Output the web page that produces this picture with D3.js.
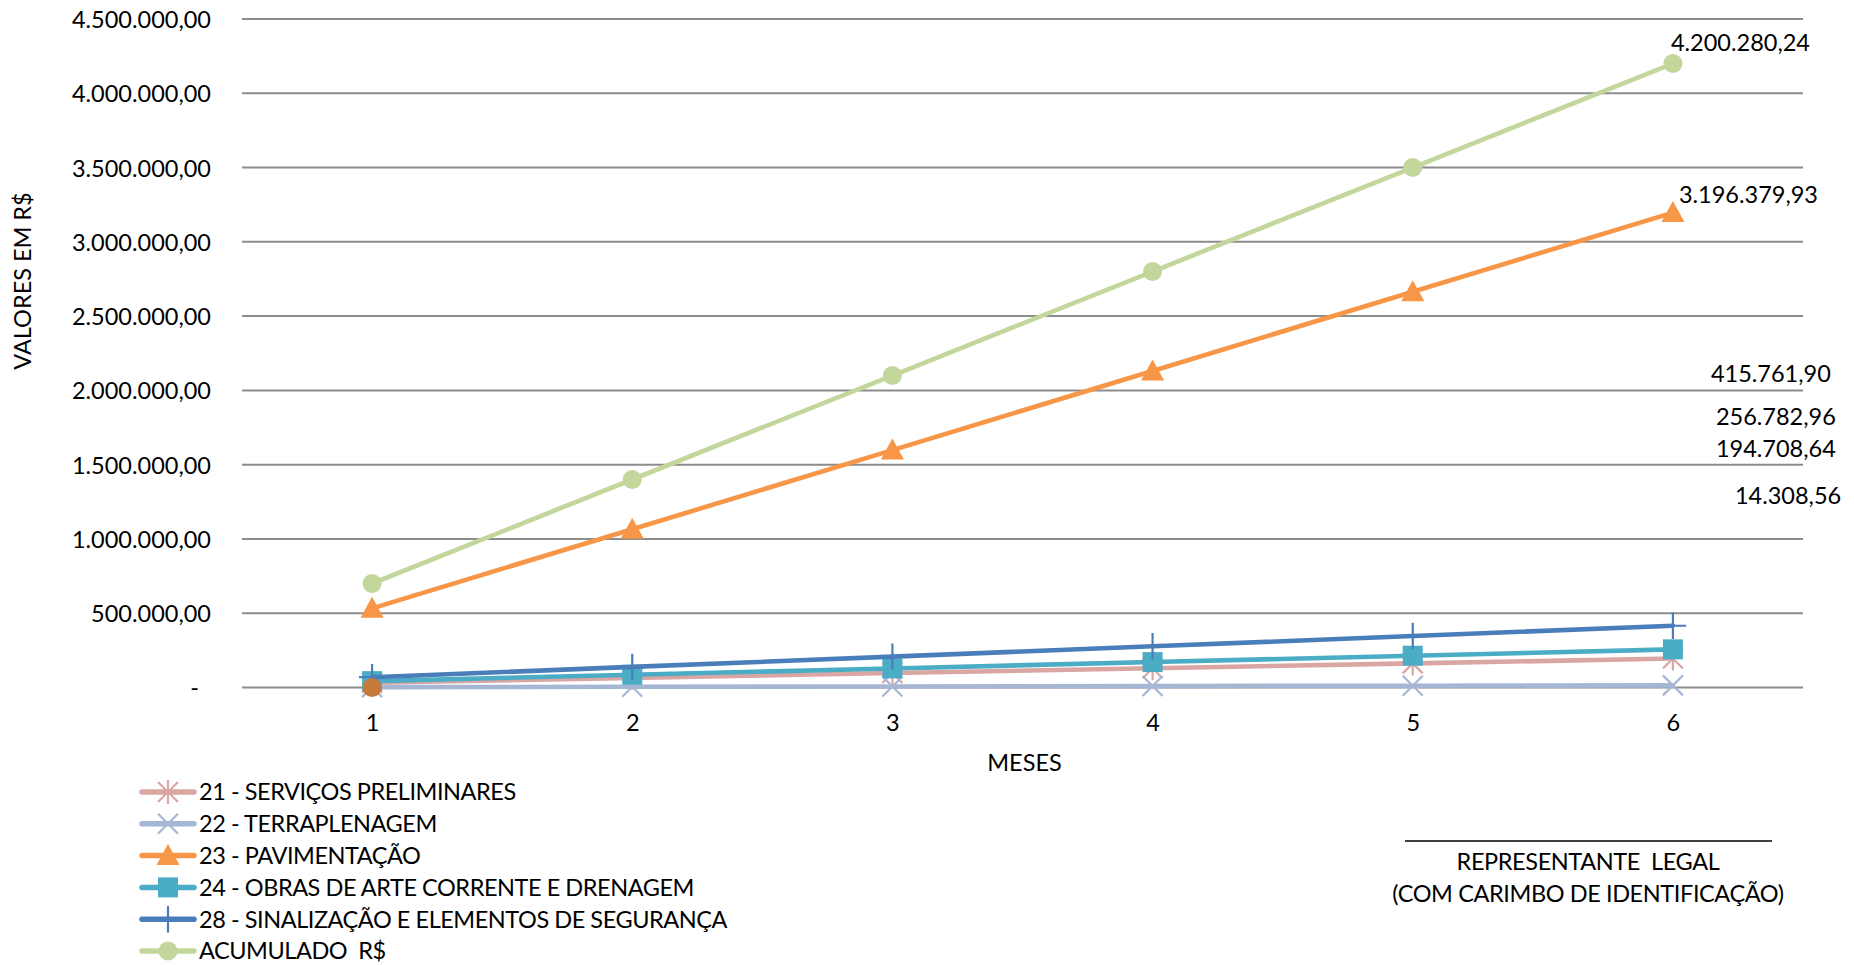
<!DOCTYPE html>
<html>
<head>
<meta charset="utf-8">
<script src="https://cdn.jsdelivr.net/npm/d3@7"></script>
<style>
  html, body { margin: 0; padding: 0; background: #fff; }
  svg { display: block; }
  text { font-family: Lato, "Open Sans", sans-serif; fill: #000; white-space: pre; }
</style>
</head>
<body>
<svg id="chart" width="1854" height="965"></svg>
<script>
// ---------------- DATA ----------------
const months = [1, 2, 3, 4, 5, 6];
const yTickValues = [0, 500000, 1000000, 1500000, 2000000, 2500000, 3000000, 3500000, 4000000, 4500000];

const seriesNames = [
  "21 - SERVIÇOS PRELIMINARES",
  "22 - TERRAPLENAGEM",
  "23 - PAVIMENTAÇÃO",
  "24 - OBRAS DE ARTE CORRENTE E DRENAGEM",
  "28 - SINALIZAÇÃO E ELEMENTOS DE SEGURANÇA",
  "ACUMULADO  R$"
];
const servicosPreliminares = [32451.44, 64902.88, 97354.32, 129805.76, 162257.20, 194708.64];
const terraplenagem       = [2384.76, 4769.52, 7154.28, 9539.04, 11923.80, 14308.56];
const pavimentacao        = [532729.99, 1065459.98, 1598189.97, 2130919.96, 2663649.95, 3196379.93];
const obrasArte           = [42797.16, 85594.32, 128391.48, 171188.64, 213985.80, 256782.96];
const sinalizacao         = [69293.65, 138587.30, 207880.95, 277174.60, 346468.25, 415761.90];
const acumulado           = [700046.71, 1400093.41, 2100140.12, 2800186.83, 3500233.53, 4200280.24];
// an unlabeled point shown at month 1
const extraMonths = [1];
const extraValues = [0];

const xAxisTitle = "MESES";
const yAxisTitle = "VALORES EM R$";
const signatureLines = ["REPRESENTANTE  LEGAL", "(COM CARIMBO DE IDENTIFICAÇÃO)"];

// ---------------- STYLE ----------------
const seriesValues = [servicosPreliminares, terraplenagem, pavimentacao, obrasArte, sinalizacao, acumulado];
const seriesColors = ["#D9A6A4", "#A6B6D5", "#F79646", "#4BACC6", "#4A7EBB", "#C3D69B"];
const seriesMarkers = ["asterisk", "x", "triangle", "square", "plus", "circle"];
// label offsets relative to last point
const labelOffsets = [
  {dx: 43, dy: -210},
  {dx: 62, dy: -190},
  {dx: 6, dy: -18},
  {dx: 43, dy: -233},
  {dx: 38, dy: -252},
  {dx: -2, dy: -21}
];

const svg = d3.select("#chart");
const plot = {left: 242, right: 1803, top: 19, bottom: 687.5};

const loc = d3.formatLocale({decimal: ",", thousands: ".", grouping: [3], currency: ["R$", ""]});
const fmt = loc.format(",.2f");

const x = d3.scalePoint().domain(months).range([plot.left, plot.right]).padding(0.5);
const y = d3.scaleLinear().domain([0, 4500000]).range([plot.bottom, plot.top]);

// gridlines
svg.append("g")
  .selectAll("line").data(yTickValues).join("line")
  .attr("x1", plot.left).attr("x2", plot.right)
  .attr("y1", d => y(d)).attr("y2", d => y(d))
  .attr("stroke", "#8C8C8C").attr("stroke-width", 2);

// y axis labels
const yAxis = d3.axisLeft(y).tickValues(yTickValues).tickSize(0).tickPadding(0)
  .tickFormat(d => d === 0 ? "-" : fmt(d));
const yg = svg.append("g").attr("transform", `translate(211,0)`).call(yAxis);
yg.select(".domain").remove();
yg.selectAll("text").attr("font-size", 23.5).attr("font-family", "Lato").attr("fill", "#000")
  .attr("dy", "0.36em")
  .attr("dx", d => d === 0 ? -12 : 0);

// x axis labels
const xAxis = d3.axisBottom(x).tickSize(0).tickPadding(0);
const xg = svg.append("g").attr("transform", `translate(0,${plot.bottom})`).call(xAxis);
xg.select(".domain").remove();
xg.selectAll("text").attr("font-size", 23.5).attr("font-family", "Lato").attr("fill", "#000")
  .attr("y", 35).attr("dy", "0.36em");

// axis titles
svg.append("text").attr("x", (plot.left + plot.right) / 2 + 2).attr("y", 763).attr("dy", "0.36em")
  .attr("text-anchor", "middle").attr("font-size", 23.5).text(xAxisTitle);
svg.append("text").attr("transform", "translate(23,281) rotate(-90)").attr("dy", "0.36em")
  .attr("text-anchor", "middle").attr("font-size", 23.5).text(yAxisTitle);

// marker drawing
function drawMarker(g, type, color, size) {
  const s = size;
  if (type === "circle") {
    g.append("circle").attr("r", s * 0.5).attr("fill", color);
  } else if (type === "triangle") {
    g.append("path").attr("d", `M0,${-s*0.55} L${s*0.55},${s*0.45} L${-s*0.55},${s*0.45} Z`).attr("fill", color);
  } else if (type === "square") {
    g.append("rect").attr("x", -s*0.5).attr("y", -s*0.5).attr("width", s).attr("height", s).attr("fill", color);
  } else if (type === "plus") {
    g.append("path").attr("d", `M0,${-s*0.6} V${s*0.6} M${-s*0.6},0 H${s*0.6}`).attr("stroke", color).attr("stroke-width", 2.2).attr("fill", "none");
  } else if (type === "x") {
    const h = s * 0.5;
    g.append("path").attr("d", `M${-h},${-h} L${h},${h} M${-h},${h} L${h},${-h}`).attr("stroke", color).attr("stroke-width", 2.2).attr("fill", "none");
  } else if (type === "asterisk") {
    const h = s * 0.5;
    g.append("path").attr("d", `M${-h},${-h} L${h},${h} M${-h},${h} L${h},${-h} M0,${-h*1.2} V${h*1.2}`).attr("stroke", color).attr("stroke-width", 2.2).attr("fill", "none");
  }
}
const markerSizes = {circle: 19, triangle: 21, square: 20, plus: 22, x: 20, asterisk: 20};

// series
const line = d3.line().x((d, i) => x(months[i])).y(d => y(d));
seriesValues.forEach((vals, si) => {
  const g = svg.append("g");
  g.append("path").datum(vals).attr("d", line)
    .attr("fill", "none").attr("stroke", seriesColors[si]).attr("stroke-width", 4.6)
    .attr("stroke-linejoin", "round").attr("stroke-linecap", "round");
  vals.forEach((v, i) => {
    const mg = g.append("g").attr("transform", `translate(${x(months[i])},${y(v)})`);
    drawMarker(mg, seriesMarkers[si], seriesColors[si], markerSizes[seriesMarkers[si]]);
  });
});

// extra point
extraValues.forEach((v, i) => {
  svg.append("circle").attr("cx", x(extraMonths[i])).attr("cy", y(v)).attr("r", 9.5).attr("fill", "#C5793A");
});

// data labels at last point
seriesValues.forEach((vals, si) => {
  const last = vals[vals.length - 1];
  svg.append("text")
    .attr("x", x(months[months.length - 1]) + labelOffsets[si].dx)
    .attr("y", y(last) + labelOffsets[si].dy)
    .attr("dy", "0.36em").attr("font-size", 23.5)
    .text(fmt(last));
});

// legend
const legendTop = 792, legendStep = 31.8;
seriesNames.forEach((name, si) => {
  const gy = legendTop + si * legendStep;
  const g = svg.append("g").attr("transform", `translate(0,${gy})`);
  g.append("line").attr("x1", 142).attr("x2", 194).attr("y1", 0).attr("y2", 0)
    .attr("stroke", seriesColors[si]).attr("stroke-width", 5.5).attr("stroke-linecap", "round");
  const mg = g.append("g").attr("transform", "translate(168,0)");
  drawMarker(mg, seriesMarkers[si], seriesColors[si], markerSizes[seriesMarkers[si]]);
  g.append("text").attr("x", 199).attr("y", 0).attr("dy", "0.36em").attr("font-size", 23.5)
    .attr("letter-spacing", -0.45).text(name);
});

// signature block
svg.append("line").attr("x1", 1405).attr("x2", 1772).attr("y1", 841).attr("y2", 841)
  .attr("stroke", "#000").attr("stroke-width", 1.5);
signatureLines.forEach((t, i) => {
  svg.append("text").attr("x", 1588).attr("y", 862 + i * 32).attr("dy", "0.36em")
    .attr("text-anchor", "middle").attr("font-size", 23.5).attr("letter-spacing", -0.4)
    .text(t);
});
</script>
</body>
</html>
